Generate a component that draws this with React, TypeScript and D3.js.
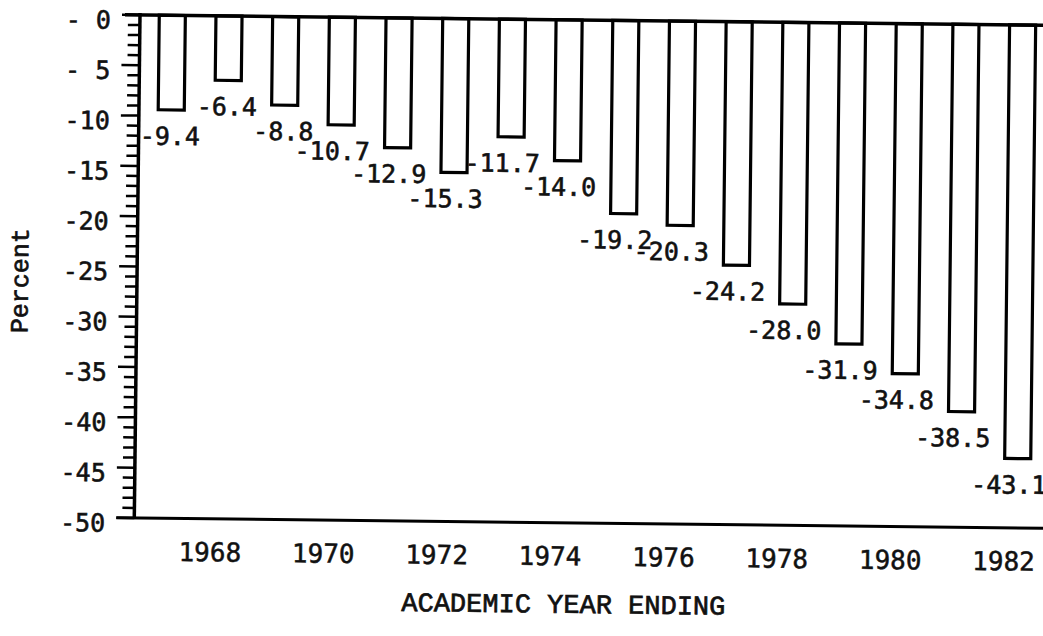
import React, { useEffect, useRef } from 'react';
import * as d3 from 'd3';

// academic years (bars) and percent change values
const years = [1967, 1968, 1969, 1970, 1971, 1972, 1973, 1974, 1975, 1976, 1977, 1978, 1979, 1980, 1981, 1982];
const values = [-9.4, -6.4, -8.8, -10.7, -12.9, -15.3, -11.7, -14.0, -19.2, -20.3, -24.2, -28.0, -31.9, -34.8, -38.5, -43.1];
const valueLabels = ["-9.4", "-6.4", "-8.8", "-10.7", "-12.9", "-15.3", "-11.7", "-14.0", "-19.2", "-20.3", "-24.2", "-28.0", "-31.9", "-34.8", "-38.5", "-43.1"];

const yTicks = [0, -5, -10, -15, -20, -25, -30, -35, -40, -45, -50];
const yTickLabels = ["- 0", "- 5", "-10", "-15", "-20", "-25", "-30", "-35", "-40", "-45", "-50"];
const xTickYears = [1968, 1970, 1972, 1974, 1976, 1978, 1980, 1982];

function App() {
  const svgRef = useRef<SVGSVGElement>(null);

  useEffect(() => {
    const width = 1043;
    const height = 636;
    const numFont = "'DejaVu Sans Mono', monospace";
    const typeFont = "'Liberation Mono', 'Courier New', monospace";
    const ink = "#111";

    const svg = d3.select(svgRef.current);
    svg.selectAll("*").remove();
    svg.attr("width", width).attr("height", height);

    svg.append("rect").attr("width", width).attr("height", height).attr("fill", "#fff");

    // the scanned page is slightly rotated
    const g = svg.append("g").attr("transform", "rotate(0.65, 140, 15)");

    // Scales
    const x = d3.scaleBand<number>()
      .domain(years)
      .range([140, 1055])
      .paddingInner(0.54)
      .paddingOuter(0.34);

    const y = d3.scaleLinear()
      .domain([0, -50])
      .range([15, 518]);

    // Bars
    g.selectAll(".bar")
      .data(values)
      .enter().append("rect")
      .attr("class", "bar")
      .attr("x", (d, i) => x(years[i]) as number)
      .attr("y", y(0))
      .attr("width", x.bandwidth())
      .attr("height", d => y(d) - y(0))
      .attr("fill", "#fff")
      .attr("stroke", "#000")
      .attr("stroke-width", 3.2);

    // Value labels, right aligned just past each bar
    g.selectAll(".val")
      .data(values)
      .enter().append("text")
      .attr("class", "val")
      .attr("x", (d, i) => (x(years[i]) as number) + x.bandwidth() + 16)
      .attr("y", d => y(d) + 35)
      .attr("text-anchor", "end")
      .style("font-family", numFont)
      .style("font-size", "25px")
      .style("fill", ink)
      .style("stroke", ink)
      .style("stroke-width", 0.6)
      .text((d, i) => valueLabels[i]);

    // Y axis ticks (every 1, longer every 5)
    const minor = d3.range(0, -51, -1);
    g.selectAll(".ytick")
      .data(minor)
      .enter().append("line")
      .attr("x1", d => (d % 5 === 0 ? 122 : 128))
      .attr("x2", 140)
      .attr("y1", d => y(d))
      .attr("y2", d => y(d))
      .attr("stroke", "#000")
      .attr("stroke-width", 2.5);

    // Y axis line
    g.append("line")
      .attr("x1", 140).attr("x2", 140)
      .attr("y1", y(0) - 2).attr("y2", y(-50))
      .attr("stroke", "#000").attr("stroke-width", 3.5);

    // zero line
    g.append("line")
      .attr("x1", 125).attr("x2", 1070)
      .attr("y1", y(0)).attr("y2", y(0))
      .attr("stroke", "#000").attr("stroke-width", 3.5);

    // bottom line
    g.append("line")
      .attr("x1", 122).attr("x2", 1070)
      .attr("y1", y(-50)).attr("y2", y(-50))
      .attr("stroke", "#000").attr("stroke-width", 3);

    // Y tick labels
    g.selectAll(".ylab")
      .data(yTicks)
      .enter().append("text")
      .attr("x", 111)
      .attr("y", d => y(d) + 5)
      .attr("dy", "0.36em")
      .attr("text-anchor", "end")
      .attr("xml:space", "preserve")
      .style("white-space", "pre")
      .style("font-family", numFont)
      .style("font-size", "25px")
      .style("fill", ink)
      .style("stroke", ink)
      .style("stroke-width", 0.6)
      .text((d, i) => yTickLabels[i]);

    // X axis labels (typed under the left edge of each even year bar)
    const xAxis = d3.axisBottom(x)
      .tickValues(xTickYears)
      .tickSize(0)
      .tickPadding(24)
      .tickFormat(d => String(d));

    const xg = g.append("g")
      .attr("transform", `translate(0, ${y(-50)})`)
      .call(xAxis);
    xg.select(".domain").remove();
    xg.selectAll("text")
      .attr("dx", -x.bandwidth() / 2)
      .style("font-family", numFont)
      .style("font-size", "26px")
      .style("fill", ink)
      .style("stroke", ink)
      .style("stroke-width", 0.5);

    // Axis titles
    g.append("text")
      .attr("x", 570)
      .attr("y", 608)
      .attr("text-anchor", "middle")
      .style("font-family", typeFont)
      .style("font-size", "27px")
      .style("fill", ink)
      .style("stroke", ink)
      .style("stroke-width", 0.7)
      .text("ACADEMIC YEAR ENDING");

    g.append("text")
      .attr("transform", "translate(31, 282) rotate(-90)")
      .attr("text-anchor", "middle")
      .style("font-family", typeFont)
      .style("font-size", "25px")
      .style("fill", ink)
      .style("stroke", ink)
      .style("stroke-width", 0.7)
      .text("Percent");
  }, []);

  return (
    <div style={{ position: "absolute", left: 0, top: 0 }}>
      <svg ref={svgRef} style={{ display: "block" }}></svg>
    </div>
  );
}

export default App;
